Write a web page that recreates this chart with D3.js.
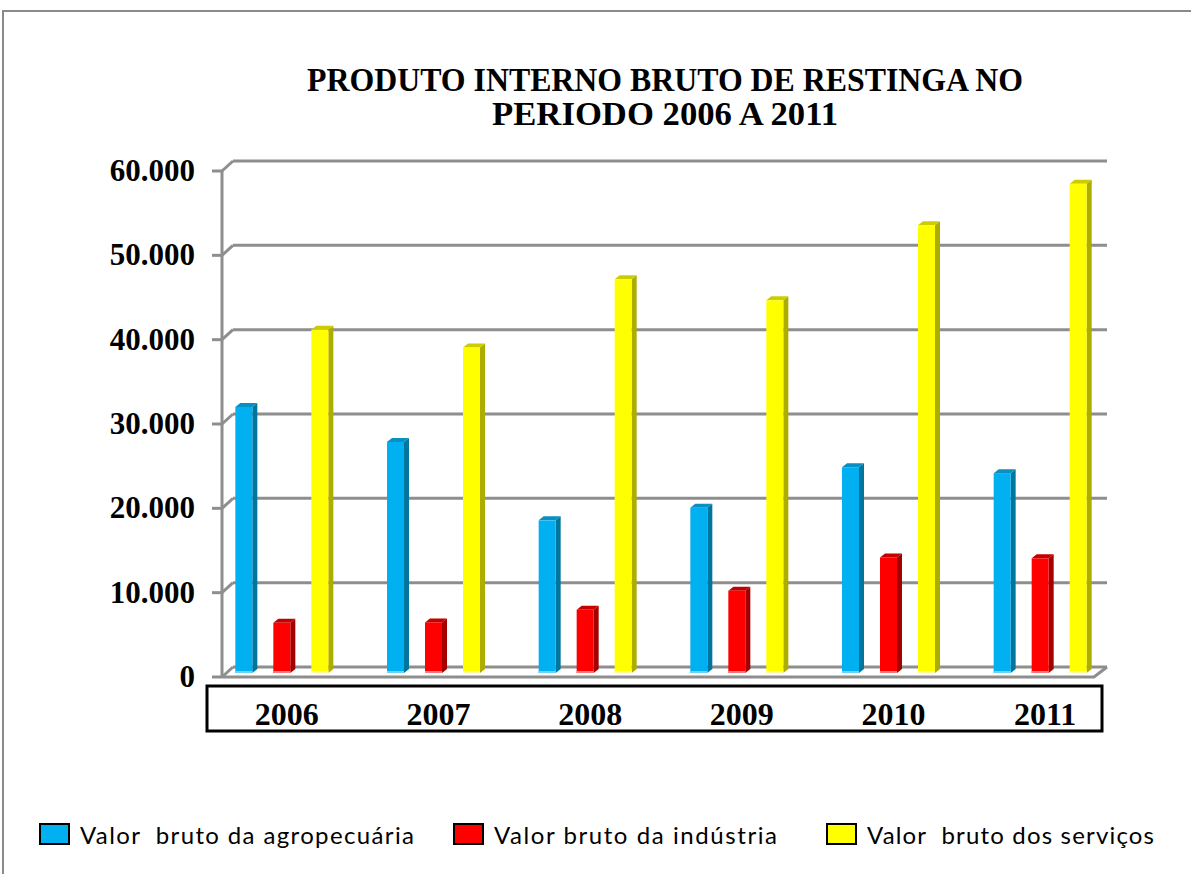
<!DOCTYPE html>
<html lang="pt">
<head>
<meta charset="UTF-8">
<title>Produto Interno Bruto de Restinga</title>
<script src="https://d3js.org/d3.v7.min.js"></script>
<style>
  body { margin: 0; background: #fff; }
  svg { display: block; }
  .title { font-family: "Liberation Serif", "Times New Roman", serif; font-weight: bold; font-size: 33px; }
  .ylab { font-family: "Liberation Serif", "Times New Roman", serif; font-weight: bold; font-size: 31px; }
  .xlab { font-family: "Liberation Serif", "Times New Roman", serif; font-weight: bold; font-size: 32px; }
  .leg { font-family: Lato, "Noto Sans", sans-serif; font-size: 24px; white-space: pre; }
</style>
</head>
<body>
<svg id="chart" width="1191" height="874"></svg>
<script>
// dados
const years = ["2006", "2007", "2008", "2009", "2010", "2011"];
const series = ["Valor  bruto da agropecuária", "Valor bruto da indústria", "Valor  bruto dos serviços"];
const agro = [31550, 27400, 18100, 19600, 24400, 23700];
const industria = [5950, 6000, 7500, 9750, 13700, 13600];
const servicos = [40700, 38600, 46700, 44200, 53100, 58000];
const yTicks = [0, 10000, 20000, 30000, 40000, 50000, 60000];
const yTickLabels = ["0", "10.000", "20.000", "30.000", "40.000", "50.000", "60.000"];
const values = [agro, industria, servicos];

// cores: frente, lado, topo, base
const colors = [
  { front: "#00b0f0", side: "#00769f", top: "#0a8fc2", base: "#66d4ff" },
  { front: "#ff0000", side: "#a30000", top: "#c40000", base: "#ff7a7a" },
  { front: "#ffff00", side: "#adad00", top: "#cccc00", base: "#ffff99" }
];

const svg = d3.select("#chart");

// borda externa
svg.append("rect")
  .attr("x", 3).attr("y", 11).attr("width", 1220).attr("height", 900)
  .attr("fill", "none").attr("stroke", "#8a8a8a").attr("stroke-width", 2);

// escalas
const y = d3.scaleLinear().domain([0, 60000]).range([667, 161]);
const x0 = d3.scaleBand().domain(years).range([206, 1116]).padding(0);
const groupW = 114;
const x1 = d3.scaleBand().domain(d3.range(series.length)).range([0, groupW]);
const barW = 17;
const depthX = 5, depthY = 4;       // profundidade das barras
const frontDx = -11, frontDy = 10;  // plano frontal (eixo)
const barDy = 6;                    // plano das barras
const wallLeft = 233, wallRight = 1107;

const grid = svg.append("g");
// linhas de grade na parede de fundo + diagonais na parede lateral
yTicks.forEach(t => {
  grid.append("line")
    .attr("x1", wallLeft).attr("x2", wallRight)
    .attr("y1", y(t)).attr("y2", y(t))
    .attr("stroke", "#8e8e8e").attr("stroke-width", 3);
  grid.append("line")
    .attr("x1", wallLeft + frontDx).attr("y1", y(t) + frontDy)
    .attr("x2", wallLeft).attr("y2", y(t))
    .attr("stroke", "#8e8e8e").attr("stroke-width", 3);
  // marcas do eixo
  grid.append("line")
    .attr("x1", wallLeft + frontDx - 10).attr("x2", wallLeft + frontDx)
    .attr("y1", y(t) + frontDy).attr("y2", y(t) + frontDy)
    .attr("stroke", "#8e8e8e").attr("stroke-width", 3);
});
// eixo vertical frontal
grid.append("line")
  .attr("x1", wallLeft + frontDx).attr("x2", wallLeft + frontDx)
  .attr("y1", y(60000) + frontDy).attr("y2", y(0) + frontDy)
  .attr("stroke", "#8e8e8e").attr("stroke-width", 3);
// piso frontal
grid.append("polyline")
  .attr("points", [
    [wallLeft + frontDx, y(0) + frontDy],
    [wallRight + frontDx - 2, y(0) + frontDy],
    [wallRight, y(0)]
  ].map(p => p.join(",")).join(" "))
  .attr("fill", "none").attr("stroke", "#8e8e8e").attr("stroke-width", 3);

// barras 3D
const bars = svg.append("g");
years.forEach((yr, i) => {
  values.forEach((vals, s) => {
    const v = vals[i];
    const xl = x0(yr) + (x0.bandwidth() - groupW) / 2 + x1(s) + (x1.bandwidth() - barW) / 2;
    const yt = y(v) + barDy;
    const yb = y(0) + barDy;
    const c = colors[s];
    // lado
    bars.append("polygon")
      .attr("points", [[xl + barW, yt], [xl + barW + depthX, yt - depthY], [xl + barW + depthX, yb - depthY], [xl + barW, yb]].map(p => p.join(",")).join(" "))
      .attr("fill", c.side);
    // topo
    bars.append("polygon")
      .attr("points", [[xl, yt], [xl + depthX, yt - depthY], [xl + barW + depthX, yt - depthY], [xl + barW, yt]].map(p => p.join(",")).join(" "))
      .attr("fill", c.top);
    // frente
    bars.append("rect")
      .attr("x", xl).attr("y", yt).attr("width", barW).attr("height", yb - yt)
      .attr("fill", c.front);
    bars.append("rect")
      .attr("x", xl).attr("y", yb - 2).attr("width", barW).attr("height", 2)
      .attr("fill", c.base);
  });
});

// rótulos do eixo Y
svg.append("g").selectAll("text")
  .data(yTicks)
  .join("text")
  .attr("class", "ylab")
  .attr("x", 195)
  .attr("y", d => y(d) + frontDy + 10)
  .attr("text-anchor", "end")
  .text((d, i) => yTickLabels[i]);

// caixa das categorias
svg.append("rect")
  .attr("x", 207).attr("y", 686).attr("width", 895).attr("height", 45)
  .attr("fill", "#fff").attr("stroke", "#000").attr("stroke-width", 3);

svg.append("g").selectAll("text")
  .data(years)
  .join("text")
  .attr("class", "xlab")
  .attr("x", d => x0(d) + x0.bandwidth() / 2 + 5)
  .attr("y", 725)
  .attr("text-anchor", "middle")
  .text(d => d);

// título
const titleLines = ["PRODUTO INTERNO BRUTO DE RESTINGA NO", "PERIODO 2006 A 2011"];
const titleW = [716, 346];
svg.append("g").selectAll("text")
  .data(titleLines)
  .join("text")
  .attr("class", "title")
  .attr("x", (d, i) => 665 - titleW[i] / 2)
  .attr("y", (d, i) => 91 + i * 34)
  .attr("textLength", (d, i) => titleW[i])
  .attr("lengthAdjust", "spacingAndGlyphs")
  .text(d => d);

// legenda
const legX = [40, 454, 827];
const legW = [334, 283, 287];
const leg = svg.append("g");
series.forEach((name, s) => {
  leg.append("rect")
    .attr("x", legX[s]).attr("y", 824).attr("width", 29).attr("height", 20)
    .attr("fill", colors[s].front).attr("stroke", "#000").attr("stroke-width", 2);
  leg.append("text")
    .attr("class", "leg")
    .attr("x", legX[s] + 40).attr("y", 844)
    .attr("textLength", legW[s]).attr("lengthAdjust", "spacing")
    .text(name);
});
</script>
</body>
</html>
